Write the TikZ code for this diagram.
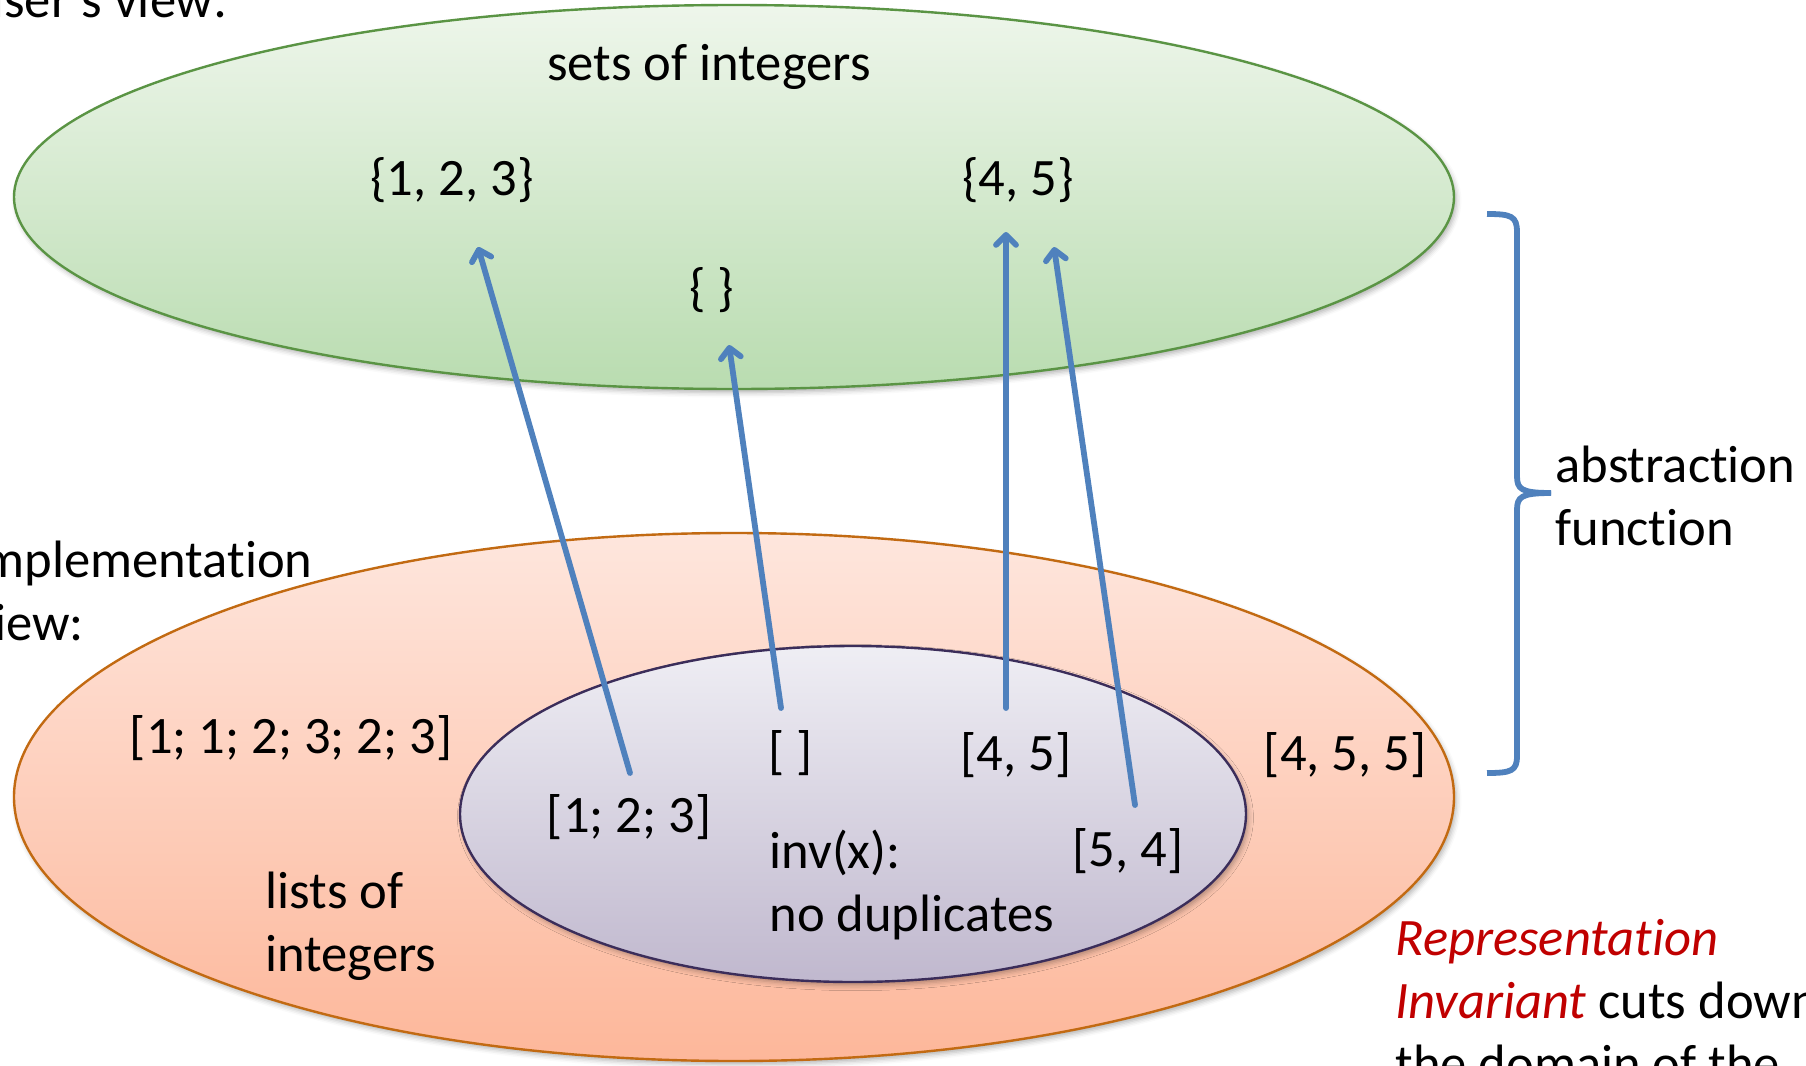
\documentclass[tikz,border=0pt]{standalone}
\usepackage{fontspec}
\setmainfont[RawFeature={-liga;-clig;-dlig;-calt}]{Carlito}
\usetikzlibrary{arrows.meta,shadows.blur}

\definecolor{setfill1}{HTML}{EEF6EB}
\definecolor{setfill2}{HTML}{B9DCB0}
\definecolor{setline}{HTML}{5A9444}
\definecolor{listfill1}{HTML}{FEE6DD}
\definecolor{listfill2}{HTML}{FDB79A}
\definecolor{listline}{HTML}{C26A12}
\definecolor{invfill1}{HTML}{EFEEF4}
\definecolor{invfill2}{HTML}{C0B8CE}
\definecolor{invline}{HTML}{3B2D5A}
\definecolor{mapblue}{HTML}{4F81BD}
\definecolor{rired}{HTML}{C00000}

\newcommand\twolines[2]{\begin{tabular}[t]{@{}l@{}}#1\\#2\end{tabular}}
% keeps "t" and "i" as separate glyphs
\newcommand\tsep{\kern0pt\relax}

\tikzset{
  lbl/.style={inner sep=0pt, anchor=base, font=\fontsize{26.3}{31.5}\selectfont},
  lblw/.style={lbl, anchor=base west},
  region/.style={line width=1.2pt,
    blur shadow={shadow xshift=1.2pt, shadow yshift=-1.8pt,
                 shadow blur radius=2.5pt, shadow opacity=30}},
  absmap/.style={draw=mapblue, line width=2.9pt, line cap=round,
    -{Straight Barb[length=5pt,width=10pt,round]}},
  bracket/.style={draw=mapblue, line width=2.9pt},
}

\begin{document}
\begin{tikzpicture}[x=0.5pt, y=-0.5pt]
\useasboundingbox (0,0) rectangle (1806,1066);
\clip (0,0) rectangle (1806,1066);

% the three value spaces
\path[region, draw=setline, top color=setfill1, bottom color=setfill2]
  (734,197) ellipse [x radius=720, y radius=192];
\path[region, draw=listline, top color=listfill1, bottom color=listfill2]
  (734,797) ellipse [x radius=720, y radius=264];
\path[region, draw=invline, top color=invfill1, bottom color=invfill2]
  (853,814) ellipse [x radius=393, y radius=168];

% captions
\node[lbl, anchor=base east] (userview) at (228,17) {user's view:};
\node[lblw] (implview) at (-30,577) {\twolines{implementat\tsep ion}{view:}};
\node[lbl] (setsint) at (709,80) {sets of integers};
\node[lblw] (listsint) at (265,908) {\twolines{lists of}{integers}};
\node[lblw] (invx) at (769,868) {\twolines{inv(x):}{no duplicates}};
\node[lblw] (absfn) at (1555,482) {\twolines{abstract\tsep ion}{funct\tsep ion}};
\node[lblw] (repinv) at (1395,955)
  {\begin{tabular}[t]{@{}l@{}}\textcolor{rired}{\itshape Representat\tsep ion}\\
   \textcolor{rired}{\itshape Invariant} cuts down\\the domain of the\end{tabular}};

% abstract values
\node[lbl] (s123) at (452,195) {\{1, 2, 3\}};
\node[lbl] (s45) at (1018,195) {\{4, 5\}};
\node[lbl] (sempty) at (712,305) {\{ \}};

% concrete values
\node[lbl] (l112323) at (291,753) {[1; 1; 2; 3; 2; 3]};
\node[lbl] (l123) at (629,832) {[1; 2; 3]};
\node[lbl] (lempty) at (791,768) {[ ]};
\node[lbl] (l45) at (1016,770) {[4, 5]};
\node[lbl] (l455) at (1345,770) {[4, 5, 5]};
\node[lbl] (l54) at (1128,866) {[5, 4]};

% arrow end points
\coordinate (a1s) at (630,773);  \coordinate (a1e) at (478,247);
\coordinate (a2s) at (781,708);  \coordinate (a2e) at (729,345);
\coordinate (a3s) at (1006,708); \coordinate (a3e) at (1006,232);
\coordinate (a4s) at (1135,805); \coordinate (a4e) at (1054,247);

\draw[absmap] (a1s) -- (a1e);
\draw[absmap] (a2s) -- (a2e);
\draw[absmap] (a3s) -- (a3e);
\draw[absmap] (a4s) -- (a4e);

% brace spanning both levels
\coordinate (btop) at (1487,214);
\coordinate (bmid) at (1551,493);
\coordinate (bbot) at (1487,773);
\draw[bracket]
  (btop) .. controls (1511,214) and (1517,216) .. (1517,232)
  -- (1517,476) .. controls (1517,489) and (1521,493) .. (bmid);
\draw[bracket]
  (bmid) .. controls (1521,493) and (1517,497) .. (1517,510)
  -- (1517,756) .. controls (1517,771) and (1511,773) .. (bbot);
\end{tikzpicture}
\end{document}
